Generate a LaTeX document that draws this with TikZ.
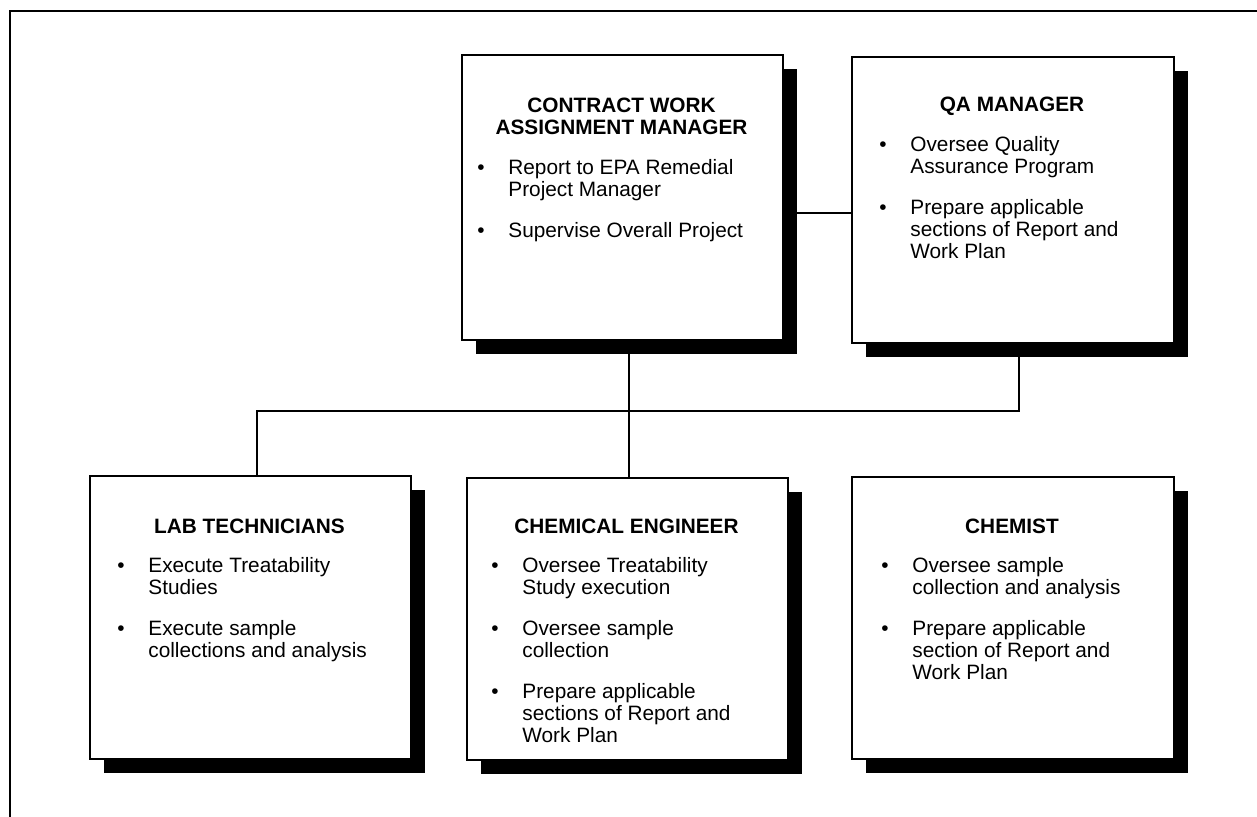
\documentclass[tikz,border=0pt]{standalone}
\usepackage{fontspec}
\setmainfont{Liberation Sans}
\usetikzlibrary{shadows}
% body text size used throughout the chart
\newcommand\orgfont{\fontsize{10.4}{11}\selectfont}
% bulleted list: a narrow bullet column followed by the text column
\newcommand\blist[1]{\begin{tabular}[t]{@{}p{15.5pt}@{}l@{}}#1\end{tabular}}
\newcommand\ttl[1]{\begin{tabular}[t]{@{}c@{}}#1\end{tabular}}
\tikzset{
  box/.style={draw, line width=1pt, fill=white, anchor=north west, inner sep=0pt,
    general shadow={fill=black, shadow xshift=7pt, shadow yshift=-7pt}},
  boxtitle/.style={anchor=base, inner sep=0pt, font=\orgfont\bfseries},
  items/.style={anchor=base west, inner sep=0pt, font=\orgfont},
  link/.style={line width=1pt},
  frame/.style={line width=1pt}
}
\begin{document}
\begin{tikzpicture}[x=0.5pt, y=-0.5pt]
\useasboundingbox[fill=white] (0,0) rectangle (1257,817);

% outer frame (top and left edges)
\coordinate (fbl) at (10,817);
\coordinate (ftl) at (10,11);
\coordinate (ftr) at (1257,11);
\draw[frame] (fbl) -- (ftl) -- (ftr);

% boxes
\node[box, minimum width=160.5pt, minimum height=142.5pt] (cwam) at (461,54) {};
\node[box, minimum width=161pt, minimum height=143pt] (qa) at (851,56) {};
\node[box, minimum width=160.5pt, minimum height=141.5pt] (lab) at (89,475) {};
\node[box, minimum width=160.5pt, minimum height=141pt] (cheng) at (466,477) {};
\node[box, minimum width=161pt, minimum height=141pt] (chemist) at (851,476) {};

% contract work assignment manager
\node[boxtitle] (cwamT) at (621.5,113) {\ttl{CONTRACT WORK\\ASSIGNMENT MANAGER}};
\node[items] (cwamL) at (477,175) {\blist{%
  \textbullet & Report to EPA Remedial\\
              & Project Manager\\[9.5pt]
  \textbullet & Supervise Overall Project}};

% QA manager
\node[boxtitle] (qaT) at (1012,112) {\ttl{QA MANAGER}};
\node[items] (qaL) at (879,152) {\blist{%
  \textbullet & Oversee Quality\\
              & Assurance Program\\[9.5pt]
  \textbullet & Prepare applicable\\
              & sections of Report and\\
              & Work Plan}};

% lab technicians
\node[boxtitle] (labT) at (249.5,533) {\ttl{LAB TECHNICIANS}};
\node[items] (labL) at (117,572) {\blist{%
  \textbullet & Execute Treatability\\
              & Studies\\[9.5pt]
  \textbullet & Execute sample\\
              & collections and analysis}};

% chemical engineer
\node[boxtitle] (chengT) at (626.5,533) {\ttl{CHEMICAL ENGINEER}};
\node[items] (chengL) at (491,572) {\blist{%
  \textbullet & Oversee Treatability\\
              & Study execution\\[9.5pt]
  \textbullet & Oversee sample\\
              & collection\\[9.5pt]
  \textbullet & Prepare applicable\\
              & sections of Report and\\
              & Work Plan}};

% chemist
\node[boxtitle] (chemT) at (1012,533) {\ttl{CHEMIST}};
\node[items] (chemL) at (881,572) {\blist{%
  \textbullet & Oversee sample\\
              & collection and analysis\\[9.5pt]
  \textbullet & Prepare applicable\\
              & section of Report and\\
              & Work Plan}};

% connectors
\coordinate (peer) at (0,213);
\coordinate (spine) at (629,411);
\coordinate (qadrop) at (1019,411);
\coordinate (labdrop) at (257,411);
\draw[link] (cwam.east |- peer) -- (qa.west |- peer);
\draw[link] (cwam.south -| spine) -- (cheng.north -| spine);
\draw[link] (qa.south -| qadrop) -- (qadrop) -- (labdrop) -- (lab.north -| labdrop);
\end{tikzpicture}
\end{document}
